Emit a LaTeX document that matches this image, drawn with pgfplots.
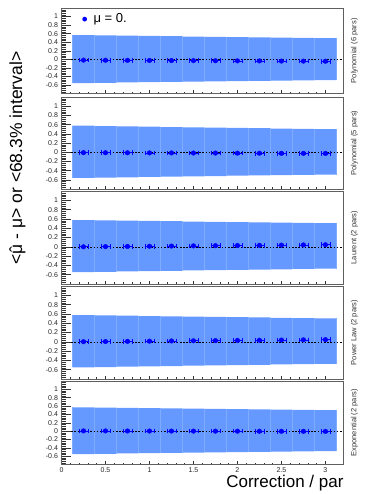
\documentclass[border=0pt]{standalone}
\usepackage{fontspec}
\setmainfont{Liberation Sans}
\usepackage{pgfplots}
\pgfplotsset{compat=1.18}
\usepackage{pgfplotstable}
\usepgfplotslibrary{fillbetween}

\definecolor{band}{RGB}{102,153,255}
\definecolor{bandedge}{RGB}{128,172,255}
\definecolor{frame}{RGB}{95,95,95}

\newcommand\muhat{\leavevmode\hbox{\ooalign{μ\cr\hidewidth ˆ\hidewidth\cr}}}

% band tables: left bin edge, lower and upper end of the 68.3% interval
% (the last row repeats the last bin so that it closes at 3.125)
\pgfplotstableread{
e lo hi
0.125 -0.555 0.568
0.375 -0.549 0.561
0.625 -0.542 0.554
0.875 -0.536 0.547
1.125 -0.529 0.540
1.375 -0.523 0.533
1.625 -0.517 0.527
1.875 -0.511 0.521
2.125 -0.505 0.515
2.375 -0.500 0.509
2.625 -0.494 0.503
2.875 -0.489 0.497
3.125 -0.489 0.497
}\bandA
\pgfplotstableread{
x mu
0.25 -0.020
0.50 -0.022
0.75 -0.024
1.00 -0.027
1.25 -0.029
1.50 -0.031
1.75 -0.034
2.00 -0.036
2.25 -0.038
2.50 -0.041
2.75 -0.043
3.00 -0.045
}\ptsA

\pgfplotstableread{
e lo hi
0.125 -0.560 0.575
0.375 -0.553 0.568
0.625 -0.546 0.561
0.875 -0.539 0.554
1.125 -0.532 0.547
1.375 -0.525 0.540
1.625 -0.519 0.534
1.875 -0.512 0.527
2.125 -0.506 0.521
2.375 -0.500 0.515
2.625 -0.494 0.509
2.875 -0.488 0.503
3.125 -0.488 0.503
}\bandB
\pgfplotstableread{
x mu
0.25 -0.010
0.50 -0.012
0.75 -0.013
1.00 -0.015
1.25 -0.016
1.50 -0.018
1.75 -0.019
2.00 -0.021
2.25 -0.022
2.50 -0.024
2.75 -0.025
3.00 -0.027
}\ptsB

\pgfplotstableread{
e lo hi
0.125 -0.545 0.575
0.375 -0.538 0.569
0.625 -0.530 0.562
0.875 -0.523 0.556
1.125 -0.516 0.550
1.375 -0.509 0.544
1.625 -0.502 0.538
1.875 -0.496 0.532
2.125 -0.489 0.527
2.375 -0.483 0.521
2.625 -0.477 0.516
2.875 -0.471 0.510
3.125 -0.471 0.510
}\bandC
\pgfplotstableread{
x mu
0.25 0.000
0.50 0.004
0.75 0.008
1.00 0.012
1.25 0.016
1.50 0.020
1.75 0.024
2.00 0.028
2.25 0.032
2.50 0.036
2.75 0.040
3.00 0.044
}\ptsC

\pgfplotstableread{
e lo hi
0.125 -0.550 0.575
0.375 -0.543 0.568
0.625 -0.535 0.561
0.875 -0.528 0.554
1.125 -0.521 0.547
1.375 -0.514 0.541
1.625 -0.507 0.535
1.875 -0.500 0.529
2.125 -0.494 0.523
2.375 -0.487 0.517
2.625 -0.481 0.511
2.875 -0.475 0.505
3.125 -0.475 0.505
}\bandD
\pgfplotstableread{
x mu
0.25 0.002
0.50 0.006
0.75 0.010
1.00 0.014
1.25 0.018
1.50 0.022
1.75 0.026
2.00 0.030
2.25 0.034
2.50 0.038
2.75 0.042
3.00 0.046
}\ptsD

\pgfplotstableread{
e lo hi
0.125 -0.550 0.570
0.375 -0.543 0.563
0.625 -0.536 0.556
0.875 -0.529 0.549
1.125 -0.523 0.543
1.375 -0.516 0.536
1.625 -0.510 0.530
1.875 -0.504 0.524
2.125 -0.498 0.518
2.375 -0.492 0.512
2.625 -0.487 0.506
2.875 -0.482 0.500
3.125 -0.482 0.500
}\bandE
\pgfplotstableread{
x mu
0.25 0.005
0.50 0.004
0.75 0.003
1.00 0.002
1.25 0.001
1.50 0.000
1.75 -0.001
2.00 -0.002
2.25 -0.003
2.50 -0.004
2.75 -0.005
3.00 -0.006
}\ptsE

\pgfplotsset{
  panel/.style={
    scale only axis, width=281.5pt,
    xmin=0, xmax=3.2, ymin=-0.8, ymax=1.2,
    xtick={0,0.5,1,1.5,2,2.5,3}, minor x tick num=4, xtick pos=bottom,
    ytick={-0.8,-0.6,-0.4,-0.2,0,0.2,0.4,0.6,0.8,1,1.2}, minor y tick num=4, ytick pos=left,
    yticklabels={,-0.6,-0.4,-0.2,0,0.2,0.4,0.6,0.8,1,},
    xticklabels={},
    tick align=inside,
    axis line style={frame, line width=0.9pt},
    every tick/.style={black!80, line width=0.4pt},
    xtick style={/pgfplots/major tick length=3pt, /pgfplots/minor tick length=1.5pt},
    ytick style={/pgfplots/major tick length=9pt, /pgfplots/minor tick length=4.5pt},
    tick label style={font=\fontsize{7}{8}\selectfont, text=black!85},
    /pgf/number format/assume math mode=true,
    axis on top,
  }
}

\newcommand\panel[6]{%
\begin{axis}[panel, name=ax, height=#4, at={(61.5pt,#5)}, anchor=south west, #6]
  \addplot[name path=hi, draw=none, const plot mark left, forget plot] table[x=e,y=hi]{#1};
  \addplot[name path=lo, draw=none, const plot mark left, forget plot] table[x=e,y=lo]{#1};
  \addplot[band, forget plot] fill between[of=hi and lo];
  \addplot[ycomb, draw=bandedge, line width=0.4pt, forget plot] table[x=e,y=hi]{#1};
  \addplot[ycomb, draw=bandedge, line width=0.4pt, forget plot] table[x=e,y=lo]{#1};
  \addplot[black, dash pattern=on 1.6pt off 1.6pt, line width=0.5pt, forget plot] coordinates {(0,0) (3.2,0)};
  \addplot[blue, only marks, mark=*, mark size=2.3pt,
    error bars/.cd, x dir=both, x fixed=0.05, y dir=both, y fixed=0.012,
    error bar style={blue, line width=0.6pt}] table[x=x,y=mu]{#2};
\end{axis}
\node[rotate=90, font=\fontsize{7.5}{9}\selectfont, text=black!80] at ([xshift=11.5pt]ax.east) {#3};
}

\begin{document}
\begin{tikzpicture}
\path (0,0) rectangle (382pt,495pt);
\panel{\bandA}{\ptsA}{Polynomial (6 pars)}{85.5pt}{401.5pt}{legend entries={μ = 0.},
  legend image code/.code={\fill[blue, draw=none] (0pt,0pt) circle (2.4pt); \path[draw=none, fill=none] (-2.4pt,0pt) rectangle (7pt,0.1pt);},
  legend style={at={(0.073,0.87)}, anchor=west, draw=none, fill=none,
    font=\fontsize{13}{14}\selectfont, inner sep=0pt}}
\panel{\bandB}{\ptsB}{Polynomial (5 pars)}{92pt}{306pt}{}
\panel{\bandC}{\ptsC}{Laurent (2 pars)}{93pt}{211pt}{}
\panel{\bandD}{\ptsD}{Power Law (2 pars)}{93pt}{116pt}{}
\panel{\bandE}{\ptsE}{Exponential (2 pars)}{83.5pt}{30.5pt}{xticklabels={0,0.5,1,1.5,2,2.5,3}}
\node[rotate=90, font=\fontsize{17.5}{20}\selectfont] at (17.5pt,337pt) {<\muhat{} - μ> or <68.3\% interval>};
\node[anchor=base east, font=\fontsize{17}{19}\selectfont] at (347pt,7.5pt) {Correction / par};
\end{tikzpicture}
\end{document}
